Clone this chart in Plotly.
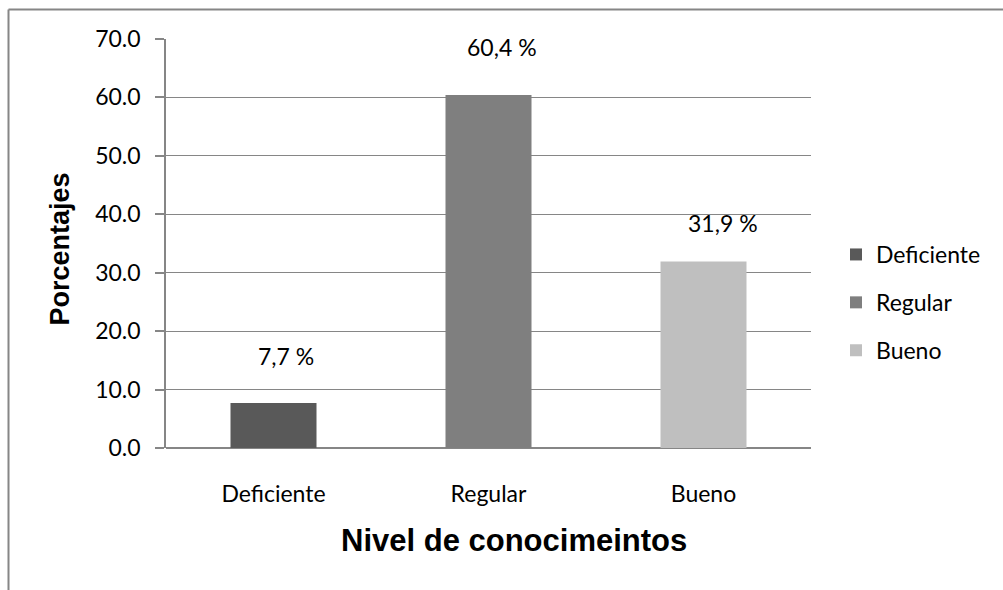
import plotly.graph_objects as go

categories = ["Deficiente", "Regular", "Bueno"]
values = [7.7, 60.4, 31.9]
colors = ["#595959", "#7f7f7f", "#bfbfbf"]
y_ticks = [0, 10, 20, 30, 40, 50, 60, 70]
x_title = "Nivel de conocimeintos"
y_title = "Porcentajes"

# per-label offsets (px) to mimic the original label placement
label_xshift = [12, 13, 19]
label_yshift = [47, 48, 39]

W, H = 1003, 590
L, R, T, B = 166, 192, 39, 142
pw, ph = W - L - R, H - T - B

TICK_FONT = dict(family="Lato, Open Sans, sans-serif", size=23, color="#000000")
TITLE_FAMILY = "Liberation Sans, Arial, sans-serif"
GRAY = "#868686"

fig = go.Figure()
for i, (c, v, col) in enumerate(zip(categories, values, colors)):
    fig.add_trace(go.Bar(
        x=[c], y=[v], name=c, width=0.4,
        marker=dict(color=col, line=dict(width=0)),
        legendgroup=c, hoverinfo="skip",
    ))
    fig.add_annotation(
        x=c, y=v, xref="x", yref="y",
        text=f"{v:.1f}".replace(".", ",") + " %",
        showarrow=False, xshift=label_xshift[i], yshift=label_yshift[i],
        yanchor="middle", xanchor="center", font=TICK_FONT,
    )

fig.update_layout(
    width=W, height=H,
    margin=dict(l=L, r=R, t=T, b=B, pad=0),
    paper_bgcolor="white", plot_bgcolor="white",
    barmode="overlay",
    showlegend=True,
    legend=dict(
        x=(836 - L) / pw, y=(448 - 233) / ph, xanchor="left", yanchor="top",
        font=TICK_FONT, tracegroupgap=15, itemwidth=30,
        bgcolor="rgba(0,0,0,0)",
    ),
    xaxis=dict(
        categoryorder="array", categoryarray=categories,
        showline=False, showgrid=False, ticks="",
        tickfont=TICK_FONT, ticklabelstandoff=30,
        zeroline=False,
    ),
    yaxis=dict(
        range=[0, 70], tickvals=y_ticks, tickformat=".1f",
        showgrid=True, gridcolor=GRAY, gridwidth=1,
        showline=True, linecolor=GRAY, linewidth=1.5,
        ticks="outside", ticklen=9, tickcolor=GRAY, tickwidth=1.5,
        tickfont=TICK_FONT, ticklabelstandoff=10,
        zeroline=True, zerolinecolor=GRAY, zerolinewidth=2,
    ),
    annotations=list(fig.layout.annotations) + [
        dict(text="<b>" + x_title + "</b>", xref="paper", yref="paper",
             x=(514 - L) / pw, y=(448 - 540) / ph, showarrow=False,
             xanchor="center", yanchor="middle",
             font=dict(family=TITLE_FAMILY, size=31, color="#000000")),
        dict(text="<b>" + y_title + "</b>", xref="paper", yref="paper",
             x=(59 - L) / pw, y=(448 - 248.5) / ph, showarrow=False,
             textangle=-90, xanchor="center", yanchor="middle",
             font=dict(family=TITLE_FAMILY, size=27, color="#000000")),
    ],
    shapes=[
        dict(type="line", xref="paper", yref="paper",
             x0=(8.5 - L) / pw, x1=(8.5 - L) / pw,
             y0=(448 - 600) / ph, y1=(448 - 9.5) / ph,
             line=dict(color=GRAY, width=2)),
        dict(type="line", xref="paper", yref="paper",
             x0=(8.5 - L) / pw, x1=(1010 - L) / pw,
             y0=(448 - 9.5) / ph, y1=(448 - 9.5) / ph,
             line=dict(color=GRAY, width=2)),
    ],
)

fig.write_html("out.html")
